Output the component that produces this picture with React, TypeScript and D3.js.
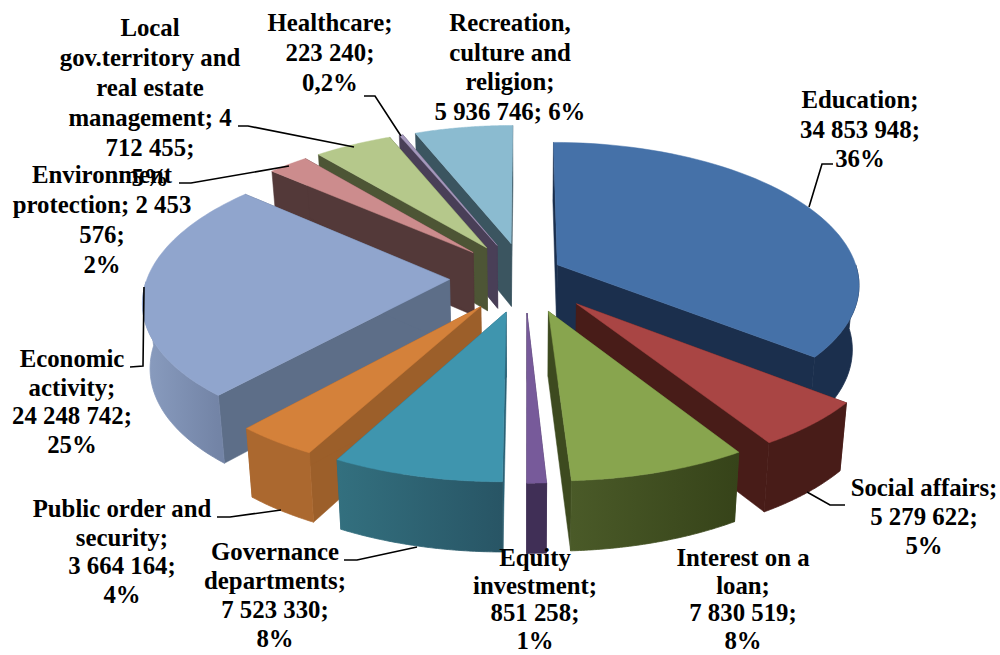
import * as d3 from "d3";

const width = 1000;
const height = 655;

// values
const categories = [
  "Education",
  "Social affairs",
  "Interest on a loan",
  "Equity investment",
  "Governance departments",
  "Public order and security",
  "Economic activity",
  "Environment protection",
  "Local gov.territory and real estate management",
  "Healthcare",
  "Recreation, culture and religion",
];
const values = [
  34853948, 5279622, 7830519, 851258, 7523330, 3664164, 24248742, 2453576,
  4712455, 223240, 5936746,
];
const explode = [0.12, 0.25, 0.25, 0.25, 0.25, 0.25, 0.25, 0.25, 0.25, 0.25, 0.25];
const explodeLift = [-0.036, 0, 0, 0, 0, 0, 0, 0, 0, 0, 0];

const topColors = [
  "#4571a8", "#a94544", "#88a54e", "#775a9a", "#3f95ae", "#d4813a",
  "#90a5cd", "#cc8c8d", "#b5c88b", "#a598bc", "#8bbbd0",
];
const wallColors = [
  "#1b2f4d", "#481c18", "#3d4a1f", "#402f56", "#2b6175", "#9c5f2a",
  "#5d6e88", "#533939", "#4d5535", "#493f57", "#3b5560",
];
// outer rim goes from one shade to the other, left to right on screen
const rimLeft = [
  "#1b2f4d", "#481c18", "#4a5a28", "#402f56", "#33707f", "#ab682f",
  "#8a9dc0", "#533939", "#4d5535", "#493f57", "#3b5560",
];
const rimRight = [
  "#1b2f4d", "#481c18", "#364319", "#402f56", "#285565", "#ab682f",
  "#7384a6", "#533939", "#4d5535", "#493f57", "#3b5560",
];

// label text and where it sits: [centre x, first line y, line step]
const labelLines = [
  ["Education;", "34 853 948;", "36%"],
  ["Social affairs;", "5 279 622;", "5%"],
  ["Interest on a", "loan;", "7 830 519;", "8%"],
  ["Equity", "investment;", "851 258;", "1%"],
  ["Governance", "departments;", "7 523 330;", "8%"],
  ["Public order and", "security;", "3 664 164;", "4%"],
  ["Economic", "activity;", "24 248 742;", "25%"],
  ["Local", "gov.territory and", "real estate", "management; 4", "712 455;", "5%"],
  ["Environment", "protection; 2 453", "576;", "2%"],
  ["Healthcare;", "223 240;", "0,2%"],
  ["Recreation,", "culture and", "religion;", "5 936 746; 6%"],
];
const labelAnchors = [
  [860, 108, 29.5],
  [924, 496, 29],
  [743, 566, 27.7],
  [535, 566, 27.7],
  [275, 560, 29],
  [122, 517, 28.7],
  [72, 367, 28.6],
  [150, 36, 30],
  [102, 183, 30],
  [330, 31, 30],
  [510, 31, 29.5],
];
const leaders = [
  [[833, 164], [822, 164], [809, 207]],
  [[845, 505], [830, 505], [807, 492]],
  [[344, 560], [357, 560], [417, 547]],
  [[217, 517], [230, 517], [281, 510]],
  [[144, 287], [143, 366], [130, 367]],
  [[238, 126], [248, 126], [354, 147]],
  [[179, 183], [191, 183], [289, 166]],
  [[364, 96], [375, 96], [401, 136]],
];

// camera: unit-radius pie lying flat, y comes toward the viewer
const perspective = 0.121;
const perspectiveX = 0.135;
const xScale = d3.scaleLinear().domain([-1, 1]).range([525 - 302, 525 + 302]);
const yScale = d3.scaleLinear().domain([-1, 1]).range([277 - 140, 277 + 140]);
const bottomShrink = 0.98;

type Pt = [number, number];

const project = (x: number, y: number, low = false): Pt => {
  const cx = xScale(0);
  let sx = xScale(x / (1 - perspectiveX * y));
  let sy = yScale(y / (1 - perspective * y));
  if (low) {
    sx = cx + (sx - cx) * bottomShrink;
    sy += 64 + 5 * y;
  }
  return [sx, sy];
};

const pathOf = d3.line<Pt>().curve(d3.curveLinear);
const closed = (pts: Pt[]) => pathOf(pts) + "Z";

const arcs = d3.pie<number>().sort(null).startAngle(0).endAngle(2 * Math.PI)(values);

const slices = arcs.map((a, i) => {
  const mid = (a.startAngle + a.endAngle) / 2;
  const ox = explode[i] * Math.sin(mid);
  const oy = -explode[i] * Math.cos(mid) + explodeLift[i];
  const world = (t: number): Pt => [ox + Math.sin(t), oy - Math.cos(t)];
  return { i, a, mid, ox, oy, world };
});

// painter's order, far slices first
const drawOrder = [...slices].sort((p, q) => -Math.cos(p.mid) + Math.cos(q.mid));

const Slice = ({ s }: { s: (typeof slices)[number] }) => {
  const { i, a, ox, oy, world } = s;
  const steps = d3.range(0, 61).map((n) => a.startAngle + ((a.endAngle - a.startAngle) * n) / 60);

  const topArc = steps.map((t) => project(...world(t)));
  const apexTop = project(ox, oy);
  const apexLow = project(ox, oy, true);

  const wall = (t: number) => {
    const [wx, wy] = world(t);
    return closed([apexTop, project(wx, wy), project(wx, wy, true), apexLow]);
  };

  // only the front half of the rim faces the camera
  const rimSteps = steps.filter((t) => t > Math.PI / 2 && t < (3 * Math.PI) / 2);
  const rimTop = rimSteps.map((t) => project(...world(t)));
  const rimLow = rimSteps.map((t) => project(world(t)[0], world(t)[1], true)).reverse();
  const [rimX0, rimX1] = d3.extent(rimTop, (p) => p[0]) as [number, number];

  return (
    <g>
      <defs>
        <linearGradient id={`rim-${i}`} gradientUnits="userSpaceOnUse" x1={rimX0} x2={rimX1} y1={0} y2={0}>
          <stop offset="0" stopColor={rimLeft[i]} />
          <stop offset="1" stopColor={rimRight[i]} />
        </linearGradient>
      </defs>
      <path d={wall(a.startAngle)} fill={wallColors[i]} stroke={wallColors[i]} strokeWidth={0.5} />
      <path d={wall(a.endAngle)} fill={wallColors[i]} stroke={wallColors[i]} strokeWidth={0.5} />
      {rimTop.length > 1 && (
        <path d={closed([...rimTop, ...rimLow])} fill={`url(#rim-${i})`} stroke={`url(#rim-${i})`} strokeWidth={0.8} />
      )}
      <path d={closed([apexTop, ...topArc])} fill={topColors[i]} stroke={topColors[i]} strokeWidth={0.5} />
    </g>
  );
};

export default function App() {
  return (
    <svg
      width={width}
      height={height}
      viewBox={`0 0 ${width} ${height}`}
      style={{ position: "absolute", left: 0, top: 0, background: "#fff" }}
      role="img"
      aria-label={categories.join(", ")}
    >
      <g className="slices">
        {drawOrder.map((s) => (
          <Slice key={categories[s.i]} s={s} />
        ))}
      </g>
      <g className="leaders" fill="none" stroke="#000" strokeWidth={1.6}>
        {leaders.map((pts, i) => (
          <path key={i} d={pathOf(pts as Pt[]) ?? ""} />
        ))}
      </g>
      <g
        className="labels"
        fontFamily="'Liberation Serif', serif"
        fontWeight="bold"
        fontSize={24.8}
        textAnchor="middle"
        fill="#000"
      >
        {labelLines.map((lines, i) => (
          <text key={i}>
            {lines.map((line, n) => (
              <tspan key={n} x={labelAnchors[i][0]} y={labelAnchors[i][1] + n * labelAnchors[i][2]}>
                {line}
              </tspan>
            ))}
          </text>
        ))}
      </g>
    </svg>
  );
}
